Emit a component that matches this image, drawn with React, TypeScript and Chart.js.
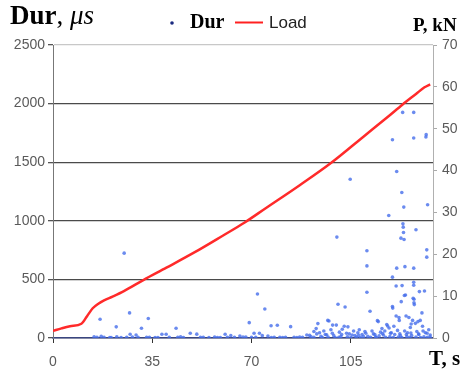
import React, { useEffect, useRef } from "react";
import { Chart, registerables } from "chart.js";

Chart.register(...registerables);

// Load curve: time (s) and load (kN)
const loadT = [0, 3, 6, 10, 12, 14, 16, 18, 21, 25, 32, 40, 50, 60, 67.6, 75, 87, 98, 110, 118, 123.3, 128, 131, 133];
const loadP = [1.7, 2.3, 2.8, 3.4, 5.2, 7.1, 8.2, 9.0, 9.9, 11.2, 13.9, 16.8, 20.5, 24.5, 27.6, 31.0, 36.5, 41.8, 48.4, 52.8, 55.8, 58.3, 59.9, 60.6];

// Duration events: time (s) and duration (µs)
const durT = [
  14.5, 15.5, 16.6, 17, 18, 20, 22.3, 22.5, 24, 25.1, 27, 27.2, 28, 29.3, 30, 31.2, 33.6, 34, 36, 38.4, 39.9, 41, 43.4, 45, 46, 48.4, 50.7, 52, 55, 57,
  59, 60.7, 62.7, 64, 65.9, 67, 69.2, 70.9, 71.5, 72.1, 72.8, 73.8, 74.7, 75.8, 76.9, 78, 79.1, 81, 83.8, 85, 87, 89.5, 90.5,
  91, 92, 92.8, 93.4, 94, 94.5, 95.5, 96, 96.9, 97.3, 98, 98.6, 99, 99.9, 100.1, 100.5, 101, 101.5, 102, 102.7, 103, 103.5, 104, 104.8, 105.5, 106,
  107, 107.5, 108, 109, 110, 110.7, 110.7, 110.7, 111, 111.8, 112.5, 113, 113.8, 114.4, 114.7, 115.5, 116, 116.5, 117, 117.7, 118, 118.4, 118.5, 119,
  119.7, 119.7, 119.7, 119.8, 120.2, 120.5, 121, 121, 121.2, 121.2, 121.5, 122, 122.1, 122.5, 122.7, 122.8, 123, 123.1, 123.3, 123.4, 123.5, 123.6,
  123.7, 123.8, 123.9, 124, 124.1, 124.3, 124.5, 125, 125.5, 126, 126.3, 126.8, 127, 127.2, 127.2, 127.2, 127.2, 127.2, 127.3, 127.3, 127.4, 127.8,
  128, 128.3, 128.7, 129, 129.2, 129.5, 130.1, 130.3, 130.5, 131, 131.3, 131.5, 131.6, 131.8, 131.8, 132.1, 132.5, 133,
  92, 95, 97, 99.5, 100.8, 103.8, 105, 106.5, 108.5, 109.5, 112, 114, 115, 117.3, 118.8, 120, 121.8, 123, 124.8, 125.8, 126.5, 128, 129.6, 130.8, 132, 133,
  20.5, 26, 33, 37, 44, 53, 58, 61.5, 68, 70, 77, 80, 82, 86, 88,
  93, 96.5, 98.5, 101.8, 104.5, 107.8, 110.3, 113.5, 116.2, 119.3, 122.3, 124.6, 126.2, 128.9, 131.9
];
const durV = [
  10, 5, 160, 15, 5, 3, 95, 10, 4, 724, 214, 32, 8, 25, 5, 83, 166, 6, 3, 32, 32, 5, 83, 10, 4, 40, 33, 6, 4, 8,
  3, 32, 20, 5, 16, 8, 131, 40, 5, 376, 40, 20, 248, 16, 104, 6, 109, 4, 97, 5, 8, 25, 22,
  10, 55, 80, 123, 45, 15, 60, 30, 150, 145, 70, 110, 20, 110, 861, 288, 50, 12, 75, 100, 265, 40, 95, 1355, 25, 60,
  8, 45, 70, 30, 55, 744, 615, 390, 15, 228, 60, 35, 10, 148, 140, 50, 80, 25, 60, 115, 102, 1045, 85, 40,
  1692, 519, 268, 255, 100, 30, 444, 188, 1421, 596, 65, 174, 150, 20, 852, 310, 1242, 447, 1925, 974, 946, 900,
  1117, 840, 362, 60, 609, 367, 188, 45, 175, 90, 120, 150, 339, 1925, 1707, 596, 476, 450, 330, 300, 285, 125,
  923, 55, 140, 30, 396, 150, 214, 100, 60, 401, 45, 1715, 1735, 752, 690, 1137, 70, 25,
  5, 3, 8, 4, 6, 10, 3, 20, 4, 12, 5, 4, 18, 6, 12, 4, 8, 3, 12, 5, 20, 8, 4, 10, 5, 8,
  4, 6, 5, 4, 6, 5, 4, 6, 8, 5, 4, 6, 5, 4, 6,
  35, 28, 40, 30, 35, 22, 40, 30, 38, 45, 35, 30, 42, 35, 40
];

const xTicks = [0, 35, 70, 105];
const durTicks = [0, 500, 1000, 1500, 2000, 2500];
const loadTicks = [0, 10, 20, 30, 40, 50, 60, 70];

const tickFont = { family: "'Liberation Sans', Arial, sans-serif", size: 14 };
const tickColor = "#5a5a5a";
const plain = (v: any) => String(v);

const overlayPlugin = {
  id: "overlayText",
  afterDraw(chart: any) {
    const ctx = chart.ctx;
    ctx.save();
    ctx.textBaseline = "alphabetic";
    ctx.fillStyle = "#000";
    // Left axis title
    ctx.font = "bold 27px 'Liberation Serif', serif";
    ctx.fillText("Dur", 10, 24);
    let w = ctx.measureText("Dur").width;
    ctx.font = "27px 'Liberation Serif', serif";
    ctx.fillText(",", 10 + w, 24);
    w += ctx.measureText(", ").width;
    ctx.font = "italic 27px 'Liberation Serif', serif";
    ctx.fillText("\u03bcs", 10 + w, 24);
    // Right axis title
    ctx.font = "bold 19px 'Liberation Serif', serif";
    ctx.fillText("P, kN", 413, 31);
    // X axis title
    ctx.font = "bold 21px 'Liberation Serif', serif";
    ctx.fillText("T, s", 429, 365);
    // Legend
    ctx.fillStyle = "#1a2a80";
    ctx.beginPath();
    ctx.arc(172, 23, 1.8, 0, Math.PI * 2);
    ctx.fill();
    ctx.fillStyle = "#000";
    ctx.font = "bold 20px 'Liberation Serif', serif";
    ctx.fillText("Dur", 190, 28);
    ctx.strokeStyle = "#ff2020";
    ctx.lineWidth = 2;
    ctx.beginPath();
    ctx.moveTo(235, 22.5);
    ctx.lineTo(263, 22.5);
    ctx.stroke();
    ctx.font = "17px 'Liberation Sans', Arial, sans-serif";
    ctx.fillStyle = "#222";
    ctx.fillText("Load", 269, 28);
    ctx.restore();
  },
};

export default function App() {
  const ref = useRef<HTMLCanvasElement | null>(null);
  useEffect(() => {
    document.body.style.margin = "0";
    const canvas = ref.current!;
    const chart = new Chart(canvas, {
      type: "scatter",
      data: {
        datasets: [
          {
            type: "line",
            label: "Load",
            data: loadT.map((t, i) => ({ x: t, y: loadP[i] })),
            xAxisID: "x",
            yAxisID: "y1",
            borderColor: "#ff2a2a",
            borderWidth: 2.5,
            pointRadius: 0,
            cubicInterpolationMode: "monotone",
            order: 1,
          } as any,
          {
            type: "scatter",
            label: "Dur",
            data: durT.map((t, i) => ({ x: t, y: durV[i] })),
            xAxisID: "x",
            yAxisID: "y",
            pointRadius: 1.8,
            pointBackgroundColor: "rgba(70,110,235,0.8)",
            pointBorderWidth: 0,
            order: 2,
          } as any,
        ],
      },
      options: {
        responsive: false,
        animation: false,
        layout: { padding: { top: 45, left: 0, right: 0, bottom: 0 } },
        plugins: { legend: { display: false }, tooltip: { enabled: false } },
        scales: {
          x: {
            type: "linear",
            position: "bottom",
            min: 0,
            max: 134,
            afterBuildTicks: (s: any) => {
              s.ticks = xTicks.map((v) => ({ value: v }));
            },
            afterFit: (s: any) => {
              s.height = 34;
            },
            grid: { drawOnChartArea: false, drawTicks: true, tickLength: 5, tickColor: "#333" },
            border: { color: "#3a4680", width: 1.5 },
            ticks: { font: tickFont, color: tickColor, padding: 11, maxRotation: 0, callback: plain },
          },
          y: {
            type: "linear",
            position: "left",
            min: 0,
            max: 2500,
            afterBuildTicks: (s: any) => {
              s.ticks = durTicks.map((v) => ({ value: v }));
            },
            afterFit: (s: any) => {
              s.width = 53;
            },
            grid: {
              color: (c: any) => (c.tick && c.tick.value === 2500 ? "#c8c8c8" : "#4a4a4a"),
              lineWidth: 1.3,
              tickColor: "#555",
              tickLength: 5,
            },
            border: { color: "#777" },
            ticks: { font: tickFont, color: tickColor, padding: 3, callback: plain },
          },
          y1: {
            type: "linear",
            position: "right",
            min: 0,
            max: 70,
            afterBuildTicks: (s: any) => {
              s.ticks = loadTicks.map((v) => ({ value: v }));
            },
            afterFit: (s: any) => {
              s.width = 31;
            },
            grid: { drawOnChartArea: false, tickLength: 4, tickColor: "#aaa" },
            border: { color: "#b0b0b0" },
            ticks: { font: tickFont, color: tickColor, padding: 5, callback: plain },
          },
        },
      },
      plugins: [overlayPlugin],
    });
    return () => chart.destroy();
  }, []);
  return <canvas ref={ref} width={464} height={372} style={{ display: "block" }} />;
}
